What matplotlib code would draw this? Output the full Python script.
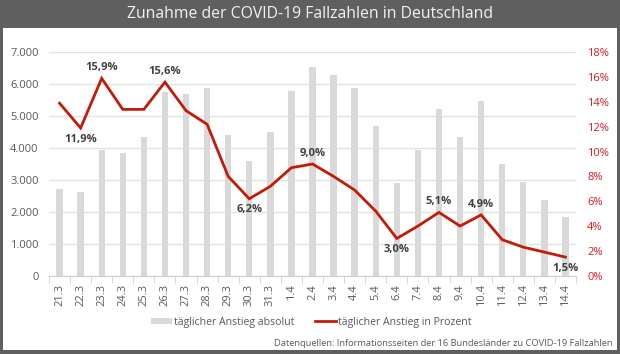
import matplotlib
matplotlib.use("Agg")
import matplotlib.pyplot as plt
from matplotlib.lines import Line2D
from matplotlib.patches import Patch
import numpy as np

plt.rcParams['font.family'] = ['Open Sans', 'DejaVu Sans']

dates = ["21.3", "22.3", "23.3", "24.3", "25.3", "26.3", "27.3", "28.3", "29.3", "30.3",
         "31.3", "1.4", "2.4", "3.4", "4.4", "5.4", "6.4", "7.4", "8.4", "9.4",
         "10.4", "11.4", "12.4", "13.4", "14.4"]
absolute = [2705, 2633, 3930, 3846, 4357, 5758, 5686, 5893, 4400, 3605,
            4514, 5800, 6542, 6300, 5884, 4693, 2896, 3930, 5226, 4338,
            5476, 3511, 2928, 2373, 1850]
percent = [13.9, 11.9, 15.9, 13.4, 13.4, 15.6, 13.3, 12.2, 8.0, 6.2,
           7.2, 8.7, 9.0, 8.0, 6.9, 5.2, 3.0, 4.0, 5.1, 4.0,
           4.9, 2.9, 2.3, 1.9, 1.5]
labels_above = ["23.3", "26.3", "2.4", "8.4", "10.4"]
labels_below = ["22.3", "30.3", "6.4", "14.4"]

title = "Zunahme der COVID-19 Fallzahlen in Deutschland"
source = "Datenquellen: Informationsseiten der 16 Bundesländer zu COVID-19 Fallzahlen"

W, H = 620, 354
fig = plt.figure(figsize=(W / 100, H / 100), dpi=100)
fig.patch.set_facecolor('#5f5f5f')
bg = fig.add_axes([3 / W, 1 - 350 / H, 614 / W, 322 / H], zorder=-5)
bg.set_facecolor('white')
bg.set_xticks([]); bg.set_yticks([])
for s in bg.spines.values():
    s.set_visible(False)
fig.text(0.5, 1 - 14 / H, title, ha='center', va='center', color='#f2f2f2', fontsize=11.3)

left, right, top, bottom = 49, 576, 52.3, 275.7
ax = fig.add_axes([left / W, 1 - bottom / H, (right - left) / W, (bottom - top) / H])
ax.set_facecolor('none')
x = np.arange(len(dates))
ax.bar(x, absolute, width=0.3, color='#d9d9d9', zorder=2)
ax.set_xlim(-0.5, len(dates) - 0.5)
ax.set_ylim(0, 7000)
ax.set_yticks(range(0, 7001, 1000))
ax.set_yticklabels(["0" if v == 0 else f"{v // 1000}.{v % 1000:03d}" for v in range(0, 7001, 1000)])
ax.grid(axis='y', color='#e3e3e3', linewidth=1, zorder=0)
ax.set_axisbelow(True)
for s in ['top', 'right', 'left']:
    ax.spines[s].set_visible(False)
ax.spines['bottom'].set_color('#d0d0d0')
ax.tick_params(axis='y', length=0, pad=7.5, labelsize=8, labelcolor='#595959')
ax.set_xticks(x)
ax.set_xticklabels(dates, rotation=90)
ax.set_xticks(np.arange(-0.5, len(dates), 1), minor=True)
ax.tick_params(axis='x', which='major', length=0, pad=6, labelsize=8, labelcolor='#595959')
ax.tick_params(axis='x', which='minor', length=5, color='#d0d0d0')

ax2 = ax.twinx()
line_color = '#c41a0a'
ax2.plot(x, percent, color=line_color, linewidth=2.0, zorder=3, solid_joinstyle='miter')
ax2.set_ylim(0, 18)
ax2.set_yticks(range(0, 19, 2))
ax2.set_yticklabels([f"{v}%" for v in range(0, 19, 2)])
ax2.tick_params(axis='y', length=0, pad=8, labelsize=8, labelcolor='#e8141e')
for s in ['top', 'right', 'left', 'bottom']:
    ax2.spines[s].set_visible(False)

for i, d in enumerate(dates):
    if d in labels_above or d in labels_below:
        off = 7.5 if d in labels_above else -8
        ax2.annotate(f"{percent[i]:.1f}%".replace('.', ','), (x[i], percent[i]),
                     xytext=(0, off), textcoords='offset points', ha='center', va='center',
                     fontsize=8, fontweight='bold', color='#404040', zorder=4)

handles = [Patch(facecolor='#d9d9d9', edgecolor='none'),
           Line2D([0], [0], color=line_color, linewidth=2.0)]
fig.legend(handles, ["täglicher Anstieg absolut", "täglicher Anstieg in Prozent"],
           loc='center', bbox_to_anchor=(311 / W, 1 - 322 / H), ncol=2, frameon=False,
           fontsize=7.6, labelcolor='#595959', handlelength=2.0, handleheight=0.45,
           handletextpad=0.15, columnspacing=2.0)

fig.text(613 / W, 1 - 343 / H, source, ha='right', va='center', color='#595959', fontsize=6.7)

fig.savefig('out.png', dpi=100, facecolor=fig.get_facecolor())
